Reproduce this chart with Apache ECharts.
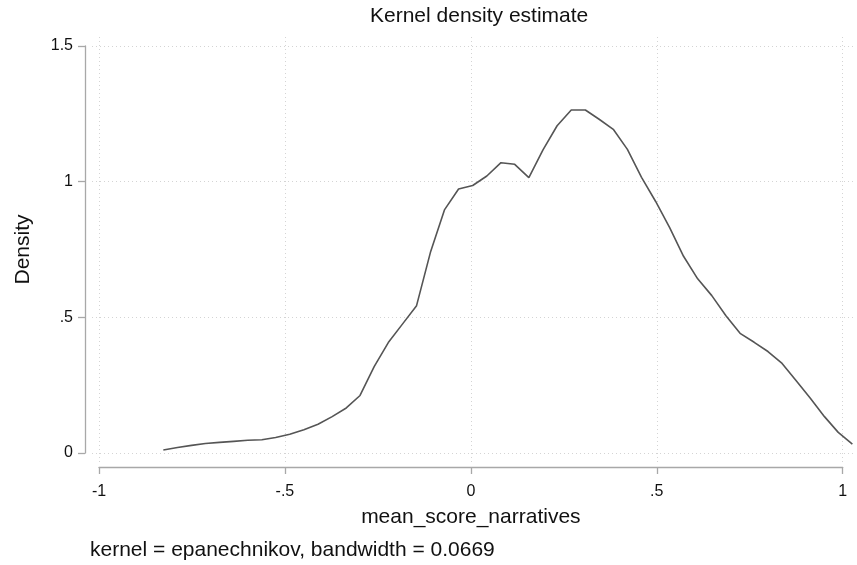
<!DOCTYPE html>
<html>
<head>
<meta charset="utf-8">
<title>Kernel density estimate</title>
<script src="https://cdn.jsdelivr.net/npm/echarts@6/dist/echarts.min.js"></script>
<style>
  html, body { margin: 0; padding: 0; background: #ffffff; }
  #chart { width: 857px; height: 565px; }
</style>
</head>
<body>
<div id="chart"></div>
<script>
// evaluation points of the density
const xPoints = [
  -0.827, -0.789, -0.751, -0.714, -0.676, -0.638, -0.600, -0.562, -0.525, -0.487,
  -0.449, -0.411, -0.373, -0.335, -0.298, -0.260, -0.222, -0.184, -0.146, -0.108,
  -0.071, -0.033, 0.005, 0.043, 0.081, 0.118, 0.156, 0.194, 0.232, 0.270,
  0.308, 0.345, 0.383, 0.421, 0.459, 0.497, 0.535, 0.572, 0.610, 0.648,
  0.686, 0.724, 0.762, 0.799, 0.837, 0.875, 0.913, 0.951, 0.988, 1.026
];
const density = [
  0.011, 0.020, 0.028, 0.035, 0.039, 0.043, 0.047, 0.049, 0.057, 0.069,
  0.086, 0.106, 0.134, 0.166, 0.212, 0.318, 0.407, 0.475, 0.543, 0.743,
  0.896, 0.973, 0.986, 1.021, 1.070, 1.064, 1.015, 1.117, 1.206, 1.264,
  1.264, 1.230, 1.193, 1.119, 1.016, 0.927, 0.830, 0.725, 0.642, 0.580,
  0.506, 0.441, 0.408, 0.374, 0.330, 0.266, 0.202, 0.134, 0.076, 0.033
];
const xTicks = [-1, -0.5, 0, 0.5, 1];
const yTicks = [0, 0.5, 1, 1.5];

const titleText = 'Kernel density estimate';
const xTitle = 'mean_score_narratives';
const yTitle = 'Density';
const noteText = 'kernel = epanechnikov, bandwidth = 0.0669';

// stata style labels: drop the leading zero
function stataLabel(v) {
  let s = String(Math.round(v * 100) / 100);
  return s.replace(/^0\./, '.').replace(/^-0\./, '-.');
}

// pixel frame: axis area (ticks -1..1, 0..1.5) and the wider plot region
const W = 857, H = 565;
const ax = { left: 99, right: 842.7, top: 46, bottom: 453 };
const plot = { left: 92, right: 855, top: 36, bottom: 462 };
const ppx = (ax.right - ax.left) / (xTicks[xTicks.length - 1] - xTicks[0]);
const ppy = (ax.bottom - ax.top) / (yTicks[yTicks.length - 1] - yTicks[0]);

const dataXMin = xTicks[0] - (ax.left - plot.left) / ppx;
const dataXMax = xTicks[xTicks.length - 1] + (plot.right - ax.right) / ppx;
const dataYMin = yTicks[0] - (plot.bottom - ax.bottom) / ppy;
const dataYMax = yTicks[yTicks.length - 1] + (ax.top - plot.top) / ppy;

const fontFam = '"Liberation Sans", Arial, sans-serif';
const axisGray = '#a8a8a8';
const gridGray = '#d4d4d4';

const gridLines = []
xTicks.forEach(v => gridLines.push({ xAxis: v }))
yTicks.forEach(v => gridLines.push({ yAxis: v }))

const chart = echarts.init(document.getElementById('chart'), null, { renderer: 'canvas' });

const option = {
  backgroundColor: '#ffffff',
  animation: false,
  textStyle: { fontFamily: fontFam },
  grid: [
    // plot region, carries the curve
    { left: plot.left, right: W - plot.right, top: plot.top, bottom: H - plot.bottom },
    // axis frame, carries the visible axes
    { left: ax.left, right: W - ax.right, top: ax.top, bottom: H - ax.bottom }
  ],
  xAxis: [
    {
      gridIndex: 0, type: 'value', min: dataXMin, max: dataXMax, show: false
    },
    {
      gridIndex: 1, type: 'value', min: -1, max: 1, interval: 0.5,
      position: 'bottom', offset: 14,
      axisLine: { show: true, onZero: false, lineStyle: { color: axisGray, width: 1.3 } },
      axisTick: { show: true, length: 7, lineStyle: { color: axisGray, width: 1.3 } },
      axisLabel: { formatter: stataLabel, color: '#111', fontSize: 16, margin: 17, fontFamily: fontFam },
      splitLine: { show: false },
      name: xTitle, nameLocation: 'middle', nameGap: 40,
      nameTextStyle: { fontSize: 21, color: '#111', fontFamily: fontFam }
    }
  ],
  yAxis: [
    {
      gridIndex: 0, type: 'value', min: dataYMin, max: dataYMax, show: false
    },
    {
      gridIndex: 1, type: 'value', min: 0, max: 1.5, interval: 0.5,
      position: 'left', offset: 14,
      axisLine: { show: true, onZero: false, lineStyle: { color: axisGray, width: 1.3 } },
      axisTick: { show: true, length: 7, lineStyle: { color: axisGray, width: 1.3 } },
      axisLabel: { formatter: stataLabel, color: '#111', fontSize: 16, margin: 12, fontFamily: fontFam },
      splitLine: { show: false },
      name: yTitle, nameLocation: 'middle', nameGap: 51,
      nameTextStyle: { fontSize: 21, color: '#111', fontFamily: fontFam }
    }
  ],
  graphic: [
    {
      type: 'text', left: 370, top: 6,
      style: { text: titleText, font: '21px ' + fontFam, fill: '#111' }
    },
    {
      type: 'text', left: 90, top: 540,
      style: { text: noteText, font: '21px ' + fontFam, fill: '#111' }
    }
  ],
  series: [
    {
      type: 'line',
      xAxisIndex: 0, yAxisIndex: 0,
      data: xPoints.map((x, i) => [x, density[i]]),
      showSymbol: false,
      smooth: false,
      lineStyle: { color: '#555555', width: 1.6 },
      markLine: {
        silent: true,
        symbol: ['none', 'none'],
        label: { show: false },
        lineStyle: { color: gridGray, type: [1, 3], width: 1 },
        data: gridLines,
        z: 1
      },
      z: 5
    }
  ]
};

chart.setOption(option);
</script>
</body>
</html>
